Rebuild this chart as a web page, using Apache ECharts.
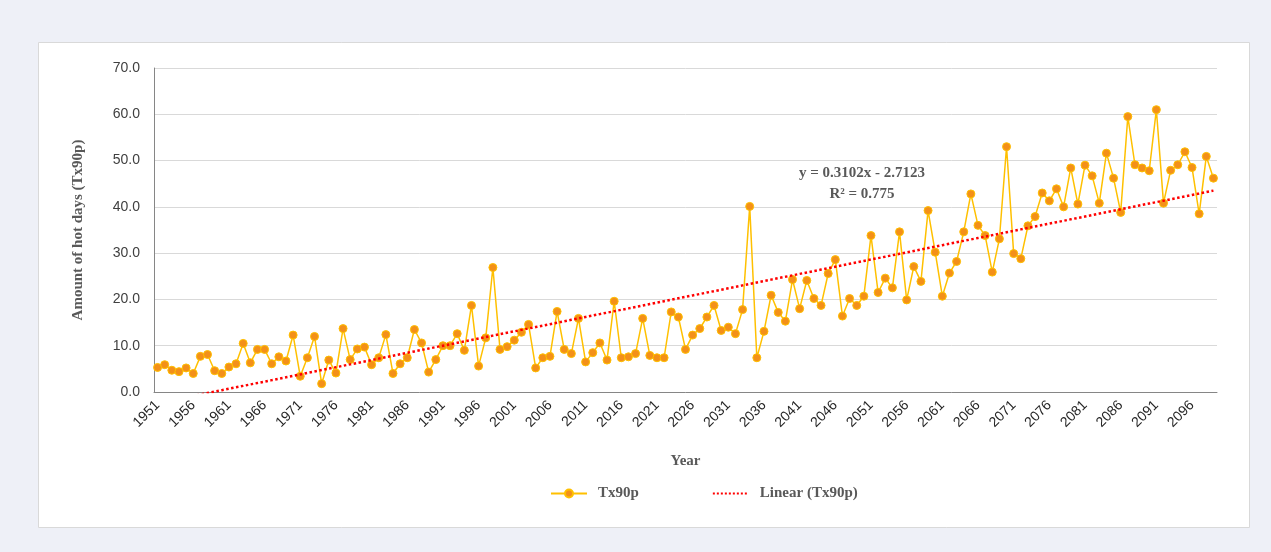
<!DOCTYPE html>
<html>
<head>
<meta charset="utf-8">
<title>Tx90p</title>
<script src="https://cdn.jsdelivr.net/npm/echarts@6/dist/echarts.min.js"></script>
<style>
  html, body { margin: 0; padding: 0; background: #eef0f7; }
  #chart { width: 1271px; height: 552px; }
</style>
</head>
<body>
<div id="chart"></div>
<script>
// years 1951..2099
var years = [];
for (var y = 1951; y <= 2099; y++) years.push(String(y));

// Tx90p values
var tx90p = [
  5.3, 5.9, 4.7, 4.4, 5.2, 4.0, 7.7, 8.1, 4.6, 4.0,
  5.4, 6.1, 10.5, 6.3, 9.2, 9.2, 6.1, 7.6, 6.7, 12.3,
  3.4, 7.4, 12.0, 1.8, 6.9, 4.1, 13.7, 7.0, 9.3, 9.7,
  5.9, 7.4, 12.4, 4.0, 6.1, 7.4, 13.5, 10.6, 4.3, 7.0,
  10.0, 10.0, 12.6, 9.0, 18.7, 5.6, 11.7, 26.9, 9.2, 9.8,
  11.2, 12.9, 14.6, 5.2, 7.4, 7.7, 17.4, 9.2, 8.3, 15.9,
  6.5, 8.5, 10.6, 6.9, 19.6, 7.4, 7.6, 8.3, 15.9, 7.9,
  7.4, 7.4, 17.3, 16.2, 9.2, 12.3, 13.7, 16.2, 18.7, 13.3,
  14.0, 12.6, 17.8, 40.1, 7.4, 13.1, 20.9, 17.2, 15.3, 24.3,
  18.0, 24.1, 20.2, 18.7, 25.6, 28.6, 16.4, 20.2, 18.7, 20.7,
  33.8, 21.5, 24.6, 22.5, 34.6, 19.9, 27.1, 23.9, 39.2, 30.2,
  20.7, 25.7, 28.2, 34.6, 42.8, 36.0, 33.8, 25.9, 33.1, 53.0,
  29.9, 28.8, 35.9, 37.9, 43.0, 41.3, 43.9, 40.0, 48.4, 40.6,
  49.0, 46.7, 40.8, 51.6, 46.2, 38.8, 59.5, 49.1, 48.4, 47.8,
  61.0, 40.8, 47.9, 49.1, 51.9, 48.5, 38.5, 50.9, 46.2
];

// trend equation shown on the chart: y = 0.3102x - 2.7123 (x = 1..n)
var trendSlope = 0.3102;
var trendIntercept = -2.7123;
var trendLabel = ['y = 0.3102x - 2.7123', 'R\u00b2 = 0.775'];

var trend = tx90p.map(function (v, i) {
  return +(trendSlope * (i + 1) + trendIntercept).toFixed(3);
});

var chart = echarts.init(document.getElementById('chart'));
var serif = '"Liberation Serif", "DejaVu Serif", serif';
var sans = '"Liberation Sans", "Open Sans", sans-serif';

var option = {
  backgroundColor: '#eef0f7',
  animation: false,
  graphic: [
    {
      type: 'rect', z: -10, silent: true,
      shape: { x: 38.5, y: 42.5, width: 1211, height: 485 },
      style: { fill: '#ffffff', stroke: '#d9d9d9', lineWidth: 1 }
    },
    {
      type: 'text', left: 799, top: 163,
      style: {
        text: trendLabel.join('\n'), fill: '#595959', font: 'bold 15px ' + serif,
        lineHeight: 21, textAlign: 'center'
      }
    }
  ],
  grid: { left: 154, right: 54, top: 68, bottom: 160 },
  legend: {
    left: 545, top: 481,
    itemGap: 73, itemWidth: 36, itemHeight: 10,
    textStyle: {
      fontFamily: serif, fontWeight: 'bold', fontSize: 15, color: '#595959',
      padding: [0, 0, 0, 6]
    },
    data: [
      'Tx90p',
      { name: 'Linear (Tx90p)', itemStyle: { opacity: 0 } }
    ]
  },
  xAxis: {
    type: 'category',
    data: years,
    name: 'Year',
    nameLocation: 'middle',
    nameGap: 62,
    nameTextStyle: { fontFamily: serif, fontWeight: 'bold', fontSize: 15, color: '#595959' },
    axisLine: { lineStyle: { color: '#868686', width: 1 } },
    axisTick: { show: false },
    axisLabel: {
      interval: 4, rotate: 45, margin: 11,
      fontFamily: sans, fontSize: 14, color: '#262626'
    }
  },
  yAxis: {
    type: 'value',
    min: 0, max: 70, interval: 10,
    name: 'Amount of hot days (Tx90p)',
    nameLocation: 'middle',
    nameGap: 68,
    nameTextStyle: { fontFamily: serif, fontWeight: 'bold', fontSize: 15, color: '#595959' },
    axisLine: { show: true, lineStyle: { color: '#868686', width: 1 } },
    axisTick: { show: false },
    axisLabel: {
      margin: 14, fontFamily: sans, fontSize: 14, color: '#404040',
      formatter: function (v) { return v.toFixed(1); }
    },
    splitLine: { lineStyle: { color: '#d9d9d9', width: 1 } }
  },
  series: [
    {
      name: 'Tx90p',
      type: 'line',
      data: tx90p,
      symbol: 'circle',
      symbolSize: 8,
      showAllSymbol: true,
      lineStyle: { color: '#ffc000', width: 1.5 },
      itemStyle: { color: '#f39019', borderColor: '#ffc000', borderWidth: 1 },
      z: 3
    },
    {
      name: 'Linear (Tx90p)',
      type: 'line',
      data: trend,
      symbol: 'none',
      clip: true,
      lineStyle: { color: '#ff0000', width: 2.5, type: 'dotted' },
      itemStyle: { color: '#ff0000' },
      z: 4
    }
  ]
};

chart.setOption(option);
</script>
</body>
</html>
